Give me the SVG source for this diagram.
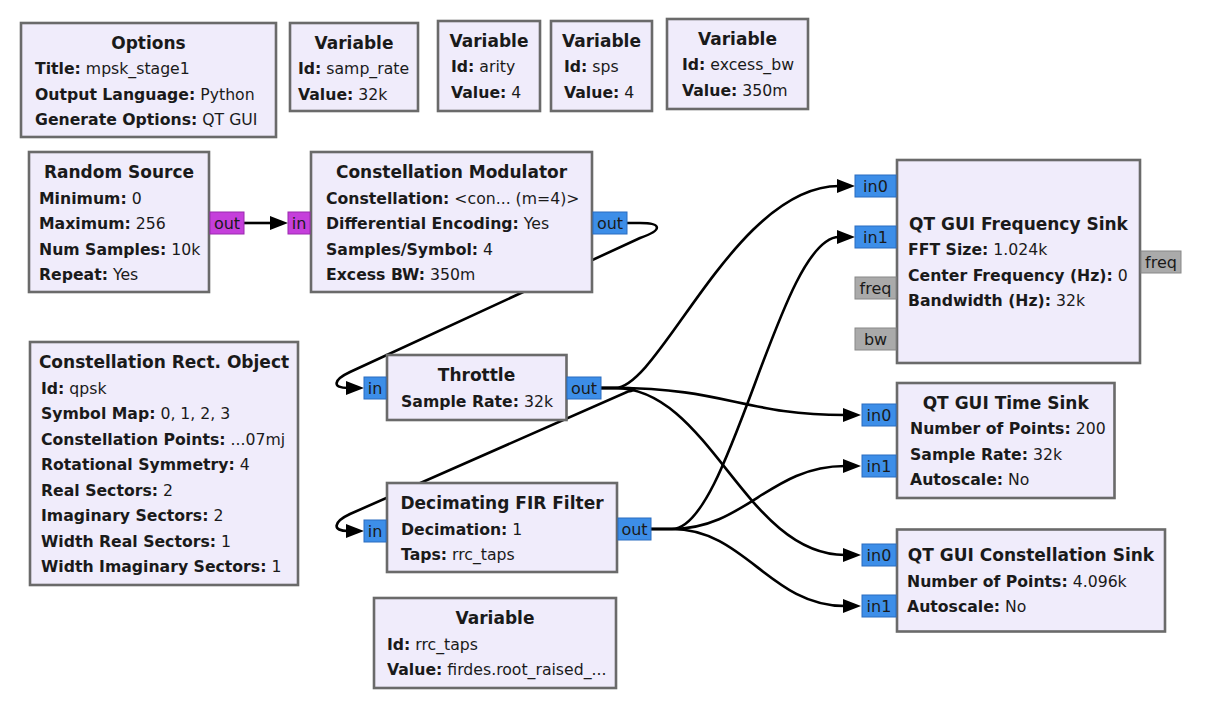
<svg xmlns="http://www.w3.org/2000/svg" width="1222" height="714" viewBox="0 0 1222 714">
<style>
.blk{fill:#f0ecfb;stroke:#6a6a6a;stroke-width:2.6}
.t{font-family:"DejaVu Sans",sans-serif;font-size:17px;font-weight:bold;fill:#1a1a1a;text-anchor:middle}
.p{font-family:"DejaVu Sans",sans-serif;font-size:15.7px;fill:#1a1a1a}
.b{font-weight:bold}
.pc{fill:#3d8ee8;stroke:#2a6cc0;stroke-width:1}
.pb{fill:#c53fdb;stroke:#9a2aae;stroke-width:1}
.pm{fill:#aaaaaa;stroke:#888888;stroke-width:1}
.pl{font-family:"DejaVu Sans",sans-serif;font-size:16px;fill:#1a1a1a;text-anchor:middle}
.c{fill:none;stroke:#000;stroke-width:2.6;marker-end:url(#ah)}
.cn{fill:none;stroke:#000;stroke-width:2.6}
</style>
<defs>
<marker id="ah" markerUnits="userSpaceOnUse" viewBox="0 0 18 14" refX="2" refY="7" markerWidth="18" markerHeight="14" orient="auto">
<path d="M0,0 L18,7 L0,14 z" fill="#000"/>
</marker>
</defs>
<rect width="1222" height="714" fill="#ffffff"/>

<g id="connectors">
<path class="c" d="M244,223 L272,223"/>
<path class="c" d="M627,223 L640,223 C662,223 663,230 640,238 L350,372 C333,380 332,388 348,388"/>
<path class="c" d="M601,388 L628,388 C637,388 636,390 628,391.5 L350,514 C333,522 332,531 348,531"/>
<path class="c" d="M601,388 L615,388 C660,388 735,186 839,186"/>
<path class="c" d="M601,388 L615,388 C725,388 745,415 845,415"/>
<path class="c" d="M601,388 L615,388 C710,388 745,555 845,555"/>
<path class="c" d="M651,529 L672,529 C730,529 780,237 839,237"/>
<path class="c" d="M651,529 L672,529 C745,529 770,466 845,466"/>
<path class="c" d="M651,529 L672,529 C745,529 770,606 845,606"/>
</g>

<g id="options">
<rect class="blk" x="21" y="23" width="255" height="114"/>
<text class="t" x="148.5" y="48.5">Options</text>
<text class="p" x="35" y="74"><tspan class="b">Title:</tspan> mpsk_stage1</text>
<text class="p" x="35" y="99.5"><tspan class="b">Output Language:</tspan> Python</text>
<text class="p" x="35" y="125"><tspan class="b">Generate Options:</tspan> QT GUI</text>
</g>

<g id="var_samp_rate">
<rect class="blk" x="290" y="23" width="128" height="88"/>
<text class="t" x="354" y="48.5">Variable</text>
<text class="p" x="298" y="74"><tspan class="b">Id:</tspan> samp_rate</text>
<text class="p" x="298" y="99.5"><tspan class="b">Value:</tspan> 32k</text>
</g>

<g id="var_arity">
<rect class="blk" x="438" y="21" width="102" height="90"/>
<text class="t" x="489" y="46.5">Variable</text>
<text class="p" x="451" y="72"><tspan class="b">Id:</tspan> arity</text>
<text class="p" x="451" y="97.5"><tspan class="b">Value:</tspan> 4</text>
</g>

<g id="var_sps">
<rect class="blk" x="551" y="21" width="101" height="90"/>
<text class="t" x="601.5" y="46.5">Variable</text>
<text class="p" x="564" y="72"><tspan class="b">Id:</tspan> sps</text>
<text class="p" x="564" y="97.5"><tspan class="b">Value:</tspan> 4</text>
</g>

<g id="var_excess_bw">
<rect class="blk" x="667" y="19" width="141" height="90"/>
<text class="t" x="737.5" y="44.5">Variable</text>
<text class="p" x="682" y="70"><tspan class="b">Id:</tspan> excess_bw</text>
<text class="p" x="682" y="95.5"><tspan class="b">Value:</tspan> 350m</text>
</g>

<g id="random_source">
<rect class="blk" x="29" y="152" width="180" height="140"/>
<text class="t" x="119" y="178">Random Source</text>
<text class="p" x="39" y="203.5"><tspan class="b">Minimum:</tspan> 0</text>
<text class="p" x="39" y="229"><tspan class="b">Maximum:</tspan> 256</text>
<text class="p" x="39" y="254.5"><tspan class="b">Num Samples:</tspan> 10k</text>
<text class="p" x="39" y="280"><tspan class="b">Repeat:</tspan> Yes</text>
<rect class="pb" x="210" y="212" width="34" height="22"/>
<text class="pl" x="227" y="229">out</text>
</g>

<g id="constellation_modulator">
<rect class="blk" x="311" y="152" width="281" height="140"/>
<text class="t" x="451.5" y="178">Constellation Modulator</text>
<text class="p" x="326" y="203.5"><tspan class="b">Constellation:</tspan> &lt;con... (m=4)&gt;</text>
<text class="p" x="326" y="229"><tspan class="b">Differential Encoding:</tspan> Yes</text>
<text class="p" x="326" y="254.5"><tspan class="b">Samples/Symbol:</tspan> 4</text>
<text class="p" x="326" y="280"><tspan class="b">Excess BW:</tspan> 350m</text>
<rect class="pb" x="288" y="212" width="22" height="22"/>
<text class="pl" x="299" y="229">in</text>
<rect class="pc" x="593" y="212" width="34" height="22"/>
<text class="pl" x="610" y="229">out</text>
</g>

<g id="constellation_rect_object">
<rect class="blk" x="30" y="342" width="268" height="243"/>
<text class="t" x="164" y="368">Constellation Rect. Object</text>
<text class="p" x="41" y="393.5"><tspan class="b">Id:</tspan> qpsk</text>
<text class="p" x="41" y="419"><tspan class="b">Symbol Map:</tspan> 0, 1, 2, 3</text>
<text class="p" x="41" y="444.5"><tspan class="b">Constellation Points:</tspan> ...07mj</text>
<text class="p" x="41" y="470"><tspan class="b">Rotational Symmetry:</tspan> 4</text>
<text class="p" x="41" y="495.5"><tspan class="b">Real Sectors:</tspan> 2</text>
<text class="p" x="41" y="521"><tspan class="b">Imaginary Sectors:</tspan> 2</text>
<text class="p" x="41" y="546.5"><tspan class="b">Width Real Sectors:</tspan> 1</text>
<text class="p" x="41" y="572"><tspan class="b">Width Imaginary Sectors:</tspan> 1</text>
</g>

<g id="throttle">
<rect class="blk" x="387" y="355" width="179.5" height="65"/>
<text class="t" x="476.5" y="381">Throttle</text>
<text class="p" x="401" y="406.5"><tspan class="b">Sample Rate:</tspan> 32k</text>
<rect class="pc" x="364" y="377" width="22" height="22"/>
<text class="pl" x="375" y="394">in</text>
<rect class="pc" x="567" y="377" width="34" height="22"/>
<text class="pl" x="584" y="394">out</text>
</g>

<g id="decimating_fir_filter">
<rect class="blk" x="387" y="483" width="230" height="89"/>
<text class="t" x="502" y="509">Decimating FIR Filter</text>
<text class="p" x="401" y="534.5"><tspan class="b">Decimation:</tspan> 1</text>
<text class="p" x="401" y="560"><tspan class="b">Taps:</tspan> rrc_taps</text>
<rect class="pc" x="364" y="520" width="22" height="22"/>
<text class="pl" x="375" y="537">in</text>
<rect class="pc" x="618" y="518" width="33" height="22"/>
<text class="pl" x="634.5" y="535">out</text>
</g>

<g id="var_rrc_taps">
<rect class="blk" x="374" y="598" width="242" height="90"/>
<text class="t" x="495" y="624">Variable</text>
<text class="p" x="387" y="649.5"><tspan class="b">Id:</tspan> rrc_taps</text>
<text class="p" x="387" y="675"><tspan class="b">Value:</tspan> firdes.root_raised_...</text>
</g>

<g id="qt_gui_freq_sink">
<rect class="blk" x="897" y="160" width="243" height="203"/>
<text class="t" x="1018.5" y="229.5">QT GUI Frequency Sink</text>
<text class="p" x="908" y="255"><tspan class="b">FFT Size:</tspan> 1.024k</text>
<text class="p" x="908" y="280.5"><tspan class="b">Center Frequency (Hz):</tspan> 0</text>
<text class="p" x="908" y="306"><tspan class="b">Bandwidth (Hz):</tspan> 32k</text>
<rect class="pc" x="855" y="175" width="41" height="22"/>
<text class="pl" x="875.5" y="192">in0</text>
<rect class="pc" x="855" y="226" width="41" height="22"/>
<text class="pl" x="875.5" y="243">in1</text>
<rect class="pm" x="855" y="277" width="41" height="22"/>
<text class="pl" x="875.5" y="294">freq</text>
<rect class="pm" x="855" y="328" width="41" height="22"/>
<text class="pl" x="875.5" y="345">bw</text>
<rect class="pm" x="1141" y="251" width="40" height="22"/>
<text class="pl" x="1161" y="268">freq</text>
</g>

<g id="qt_gui_time_sink">
<rect class="blk" x="897" y="383" width="217.5" height="115"/>
<text class="t" x="1005.7" y="408.5">QT GUI Time Sink</text>
<text class="p" x="910" y="434"><tspan class="b">Number of Points:</tspan> 200</text>
<text class="p" x="910" y="459.5"><tspan class="b">Sample Rate:</tspan> 32k</text>
<text class="p" x="910" y="485"><tspan class="b">Autoscale:</tspan> No</text>
<rect class="pc" x="862" y="404" width="34" height="22"/>
<text class="pl" x="879" y="421">in0</text>
<rect class="pc" x="862" y="455" width="34" height="22"/>
<text class="pl" x="879" y="472">in1</text>
</g>

<g id="qt_gui_const_sink">
<rect class="blk" x="897" y="529.5" width="268" height="102"/>
<text class="t" x="1031" y="561">QT GUI Constellation Sink</text>
<text class="p" x="907" y="586.5"><tspan class="b">Number of Points:</tspan> 4.096k</text>
<text class="p" x="907" y="612"><tspan class="b">Autoscale:</tspan> No</text>
<rect class="pc" x="862" y="544" width="34" height="22"/>
<text class="pl" x="879" y="561">in0</text>
<rect class="pc" x="862" y="595" width="34" height="22"/>
<text class="pl" x="879" y="612">in1</text>
</g>
</svg>
